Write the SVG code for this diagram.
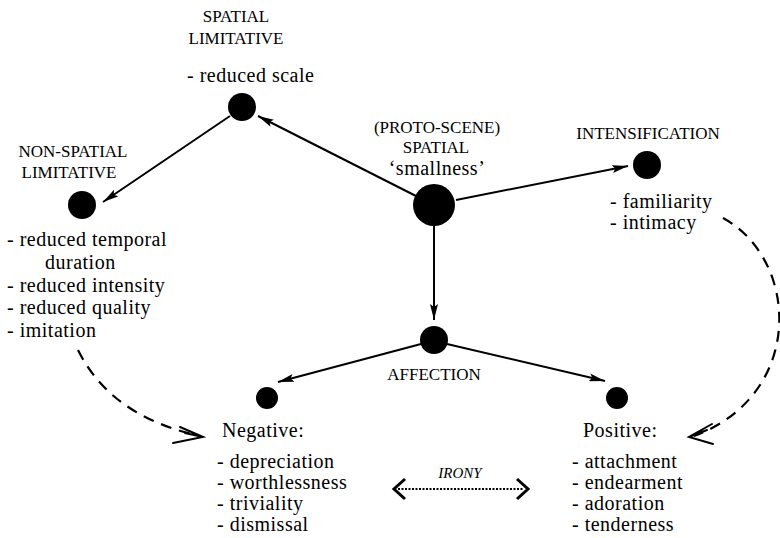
<svg xmlns="http://www.w3.org/2000/svg" width="780" height="538" viewBox="0 0 780 538">
<defs>
<style>
text{font-family:'Liberation Serif','DejaVu Serif',serif;fill:#000}
.h{font-size:17px;text-anchor:middle}
.b{font-size:20px;letter-spacing:0.5px}
.ln{stroke:#000;stroke-width:2;fill:none}
.ds{stroke:#000;stroke-width:2.2;fill:none;stroke-dasharray:11 8}
.ch{stroke:#000;stroke-width:2;fill:none;stroke-linecap:round}
.dot{fill:#000}
</style>
<marker id="ah" viewBox="0 0 16 8" refX="16" refY="4" markerWidth="16" markerHeight="8" markerUnits="userSpaceOnUse" orient="auto">
<path d="M0,0 L16,4 L0,8 L3,4 z" fill="#000"/>
</marker>
</defs>
<rect width="780" height="538" fill="#fff"/>

<g id="connectors">
<path class="ln" d="M416,196 L258,116" marker-end="url(#ah)"/>
<path class="ln" d="M230,116 L103,202" marker-end="url(#ah)"/>
<path class="ln" d="M456,200 L628,166" marker-end="url(#ah)"/>
<path class="ln" d="M434,226 L434,320" marker-end="url(#ah)"/>
<path class="ln" d="M421,344 L278,382" marker-end="url(#ah)"/>
<path class="ln" d="M447,344 L605,381" marker-end="url(#ah)"/>
<path class="ds" d="M78,350 Q110,415 196,435"/>
<path class="ch" d="M180,427 L203,437 L173,443 M185,433 L203,437"/>
<path class="ds" d="M723,218 C800,260 805,395 694,436"/>
<path class="ch" d="M712,424 L689,437 L713,444 M707,430 L689,437"/>
<g id="irony">
<path d="M405,479 L394,489 L405,499" stroke="#000" stroke-width="3" fill="none"/>
<path d="M517,479 L528,489 L517,499" stroke="#000" stroke-width="3" fill="none"/>
<path d="M398,489 L524,489" stroke="#000" stroke-width="2" stroke-dasharray="2 1.5" fill="none"/>
<text x="460" y="478" font-size="15" font-style="italic" text-anchor="middle">IRONY</text>
</g>
</g>

<g id="proto">
<circle class="dot" cx="434" cy="205" r="21"/>
<text class="h" x="437" y="133" font-size="18">(PROTO-SCENE)</text>
<text class="h" x="436" y="153">SPATIAL</text>
<text x="437" y="175" font-size="20" text-anchor="middle" letter-spacing="0.5">‘smallness’</text>
</g>

<g id="spatial-limitative">
<circle class="dot" cx="242" cy="107" r="14"/>
<text class="h" x="236" y="22">SPATIAL</text>
<text class="h" x="236" y="44">LIMITATIVE</text>
<text class="b" x="187" y="82">- reduced scale</text>
</g>

<g id="non-spatial-limitative">
<circle class="dot" cx="82" cy="205" r="14"/>
<text class="h" x="73" y="157">NON-SPATIAL</text>
<text class="h" x="69" y="178">LIMITATIVE</text>
<text class="b" x="7" y="246">- reduced temporal</text>
<text class="b" x="45" y="269">duration</text>
<text class="b" x="7" y="292">- reduced intensity</text>
<text class="b" x="7" y="314">- reduced quality</text>
<text class="b" x="7" y="337">- imitation</text>
</g>

<g id="intensification">
<circle class="dot" cx="647" cy="165" r="14"/>
<text class="h" x="648" y="139">INTENSIFICATION</text>
<text class="b" x="610" y="208">- familiarity</text>
<text class="b" x="610" y="229">- intimacy</text>
</g>

<g id="affection">
<circle class="dot" cx="434" cy="340" r="14"/>
<text class="h" x="434" y="380">AFFECTION</text>
</g>

<g id="negative">
<circle class="dot" cx="267" cy="398" r="11"/>
<text class="b" x="222" y="437">Negative:</text>
<text class="b" x="217" y="468">- depreciation</text>
<text class="b" x="217" y="489">- worthlessness</text>
<text class="b" x="217" y="510">- triviality</text>
<text class="b" x="217" y="531">- dismissal</text>
</g>

<g id="positive">
<circle class="dot" cx="617" cy="398" r="11"/>
<text class="b" x="583" y="437">Positive:</text>
<text class="b" x="572" y="468">- attachment</text>
<text class="b" x="572" y="489">- endearment</text>
<text class="b" x="572" y="510">- adoration</text>
<text class="b" x="572" y="531">- tenderness</text>
</g>
</svg>
